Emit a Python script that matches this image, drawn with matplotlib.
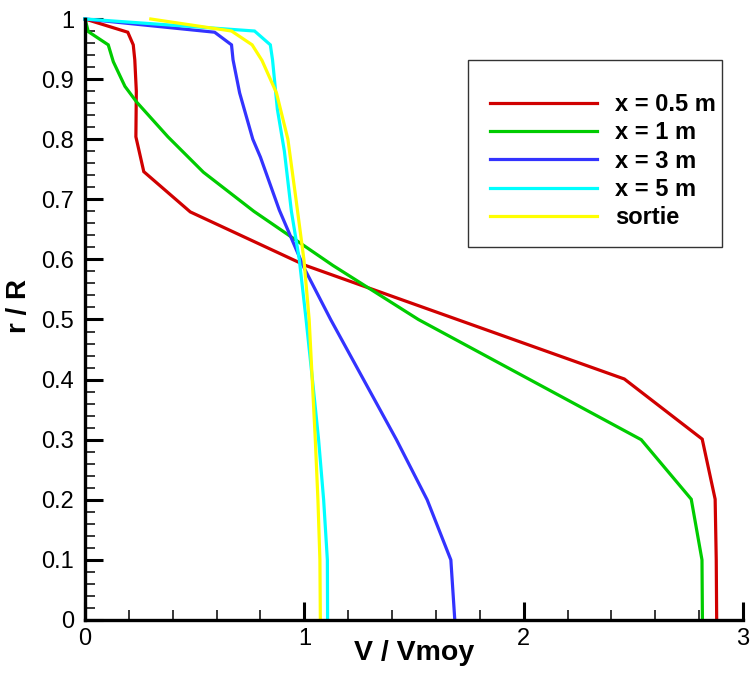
import matplotlib
matplotlib.use("Agg")
import matplotlib.pyplot as plt
from matplotlib.patches import Rectangle
from matplotlib.ticker import MultipleLocator, FuncFormatter

# Velocity profiles V/Vmoy as a function of r/R at several stations
x05_v = [2.88, 2.878, 2.873, 2.814, 2.459, 1.005, 0.48, 0.268, 0.232, 0.234, 0.227, 0.22, 0.195, 0.0]
x05_r = [0.0, 0.1, 0.201, 0.301, 0.401, 0.59, 0.679, 0.746, 0.804, 0.88, 0.932, 0.957, 0.978, 1.0]

x1_v = [2.815, 2.813, 2.764, 2.536, 1.52, 1.13, 0.77, 0.54, 0.378, 0.235, 0.182, 0.129, 0.106, 0.015, 0.0]
x1_r = [0.0, 0.1, 0.201, 0.30, 0.50, 0.59, 0.68, 0.745, 0.804, 0.862, 0.888, 0.929, 0.957, 0.979, 1.0]

x3_v = [1.686, 1.668, 1.56, 1.42, 1.27, 1.12, 1.0, 0.886, 0.80, 0.765, 0.705, 0.675, 0.668, 0.591, 0.0]
x3_r = [0.0, 0.1, 0.2, 0.3, 0.4, 0.5, 0.585, 0.682, 0.77, 0.80, 0.877, 0.932, 0.957, 0.978, 1.0]

x5_v = [1.106, 1.105, 1.088, 1.065, 1.037, 1.008, 0.977, 0.941, 0.909, 0.877, 0.855, 0.845, 0.773, 0.0]
x5_r = [0.0, 0.1, 0.2, 0.3, 0.4, 0.5, 0.6, 0.68, 0.78, 0.85, 0.932, 0.957, 0.98, 1.0]

out_v = [1.073, 1.071, 1.062, 1.05, 1.036, 1.022, 0.998, 0.962, 0.925, 0.873, 0.807, 0.762, 0.668, 0.3]
out_r = [0.0, 0.1, 0.2, 0.3, 0.4, 0.5, 0.6, 0.7, 0.8, 0.877, 0.931, 0.957, 0.98, 1.0]

labels = ["x = 0.5 m", "x = 1 m", "x = 3 m", "x = 5 m", "sortie"]
colors = ["#d00000", "#00cc00", "#3333ff", "#00ffff", "#ffff00"]

x_ticks = [0, 1, 2, 3]

plt.rcParams["font.family"] = ["Liberation Sans", "DejaVu Sans"]

fig = plt.figure(figsize=(7.5, 6.75), dpi=100)
ax = fig.add_axes([85 / 750, 55 / 675, 658 / 750, 601 / 675])

series = [(x05_v, x05_r), (x1_v, x1_r), (x3_v, x3_r), (x5_v, x5_r), (out_v, out_r)]
for (v, r), lab, col in zip(series, labels, colors):
    ax.plot(v, r, color=col, lw=2.3, label=lab, clip_on=False, solid_joinstyle="miter")

ax.set_xlim(0, 3)
ax.set_ylim(0, 1)

for side in ("top", "right"):
    ax.spines[side].set_visible(False)
for side in ("left", "bottom"):
    ax.spines[side].set_linewidth(2.4)

ax.set_xticks(x_ticks)
ax.xaxis.set_minor_locator(MultipleLocator(0.2))
ax.yaxis.set_major_locator(MultipleLocator(0.1))
ax.yaxis.set_minor_locator(MultipleLocator(0.02))


def fmt(val, pos):
    s = f"{val:.1f}"
    if s.endswith(".0"):
        s = s[:-2]
    return s


ax.xaxis.set_major_formatter(FuncFormatter(fmt))
ax.yaxis.set_major_formatter(FuncFormatter(fmt))

ax.tick_params(which="major", direction="in", length=13, width=2.2,
               labelsize=17, pad=6)
ax.tick_params(which="minor", direction="in", length=7, width=1.1)
ax.tick_params(axis="y", which="major", pad=8)

ax.set_xlabel("V / Vmoy", fontsize=20.5, fontweight="bold")
ax.set_ylabel("r / R", fontsize=20, fontweight="bold")
ax.xaxis.set_label_coords(0.5, -0.033)
ax.yaxis.set_label_coords(-0.080, 0.522)

# Legend frame drawn as its own rectangle, entries placed inside it
ax.add_patch(Rectangle((0.5821, 0.6206), 0.3860, 0.3112, transform=ax.transAxes,
                       facecolor="white", edgecolor="#333333", lw=1.0,
                       zorder=5, clip_on=False))
leg = ax.legend(loc="upper left", bbox_to_anchor=(0.6155, 0.8765),
                prop={"weight": "bold", "size": 17},
                handlelength=4.53, handletextpad=0.76, labelspacing=0.22,
                borderpad=0.0, borderaxespad=0.0, frameon=False)
leg.set_zorder(6)

fig.savefig("out.png", dpi=100)
